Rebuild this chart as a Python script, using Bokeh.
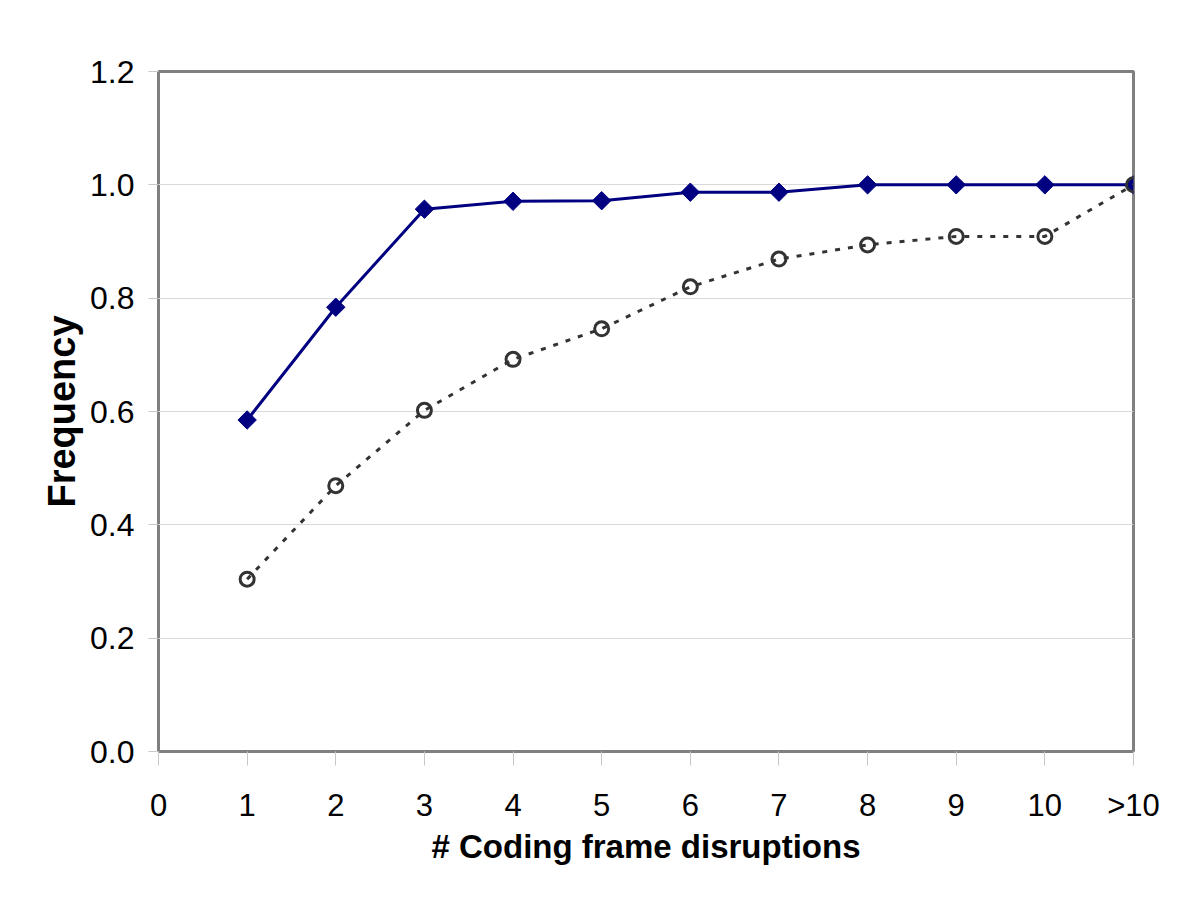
import numpy as np
from bokeh.plotting import figure
from bokeh.models import FixedTicker, PrintfTickFormatter, Range1d
from bokeh.embed import file_html
from bokeh.resources import INLINE

# ---- data ----
tick_labels = ["0", "1", "2", "3", "4", "5", "6", "7", "8", "9", "10", ">10"]
categories = ["1", "2", "3", "4", "5", "6", "7", "8", "9", "10", ">10"]
series_solid = [0.585, 0.784, 0.957, 0.971, 0.972, 0.987, 0.987, 1.0, 1.0, 1.0, 1.0]
series_dashed = [0.304, 0.469, 0.602, 0.692, 0.746, 0.820, 0.869, 0.894, 0.909, 0.909, 1.0]
y_ticks = [0.0, 0.2, 0.4, 0.6, 0.8, 1.0, 1.2]

# category positions on the numeric axis (index in tick_labels)
xpos = [tick_labels.index(c) for c in categories]

FONT = "Liberation Sans"

p = figure(width=1184, height=882, output_backend="svg", toolbar_location=None,
           x_range=Range1d(0, len(tick_labels) - 1), y_range=Range1d(0, 1.2),
           min_border_left=158, min_border_right=51, min_border_top=71, min_border_bottom=131)

p.outline_line_color = "#808080"
p.outline_line_width = 3
p.background_fill_color = "white"
p.border_fill_color = "white"

p.xgrid.grid_line_color = None
p.ygrid.grid_line_color = "#d9d9d9"
p.ygrid.grid_line_width = 1
p.ygrid.ticker = FixedTicker(ticks=y_ticks)

# x axis
p.xaxis.ticker = FixedTicker(ticks=list(range(len(tick_labels))))
p.xaxis.major_label_overrides = {i: t for i, t in enumerate(tick_labels)}
p.xaxis.axis_line_color = None
p.xaxis.major_tick_line_color = "#c8c8c8"
p.xaxis.major_tick_out = 14
p.xaxis.major_tick_in = 0
p.xaxis.minor_tick_line_color = None
p.xaxis.major_label_text_font = FONT
p.xaxis.major_label_text_font_size = "31px"
p.xaxis.major_label_text_color = "black"
p.xaxis.major_label_standoff = 22
p.xaxis.axis_label = "# Coding frame disruptions"
p.xaxis.axis_label_text_font = FONT
p.xaxis.axis_label_text_font_style = "bold"
p.xaxis.axis_label_text_font_size = "33px"
p.xaxis.axis_label_text_color = "black"
p.xaxis.axis_label_standoff = 2

# y axis
p.yaxis.ticker = FixedTicker(ticks=y_ticks)
p.yaxis.formatter = PrintfTickFormatter(format="%.1f")
p.yaxis.axis_line_color = None
p.yaxis.major_tick_line_color = "#c8c8c8"
p.yaxis.major_tick_out = 10
p.yaxis.major_tick_in = 0
p.yaxis.minor_tick_line_color = None
p.yaxis.major_label_text_font = FONT
p.yaxis.major_label_text_font_size = "32px"
p.yaxis.major_label_text_color = "black"
p.yaxis.major_label_standoff = 14
p.yaxis.axis_label = "Frequency"
p.yaxis.axis_label_text_font = FONT
p.yaxis.axis_label_text_font_style = "bold"
p.yaxis.axis_label_text_font_size = "38px"
p.yaxis.axis_label_text_color = "black"
p.yaxis.axis_label_standoff = 4

# solid series
p.line(xpos, series_solid, line_color="#000080", line_width=3)
p.scatter(xpos, series_solid, marker="square", angle=np.pi / 4, size=13,
          fill_color="#000080", line_color="#000080")

# dashed series
p.line(xpos, series_dashed, line_color="#333333", line_width=3, line_dash="5 8")
p.scatter(xpos, series_dashed, marker="circle", size=14, fill_color=None,
          line_color="#333333", line_width=3)

open("out.html", "w").write(file_html(p, INLINE))
